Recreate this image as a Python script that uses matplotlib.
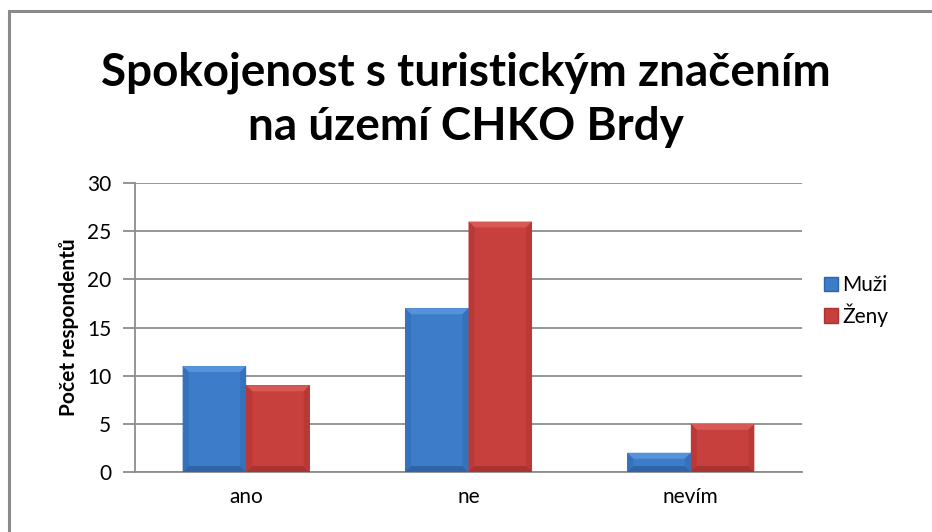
import matplotlib.pyplot as plt
from matplotlib.patches import Polygon, Rectangle
from matplotlib.transforms import IdentityTransform
import numpy as np

categories = ["ano", "ne", "nevím"]
muzi = [11, 17, 2]
zeny = [9, 26, 5]
series_names = ["Muži", "Ženy"]
yticks = [0, 5, 10, 15, 20, 25, 30]

FONT = ["Lato", "DejaVu Sans"]
plt.rcParams["font.family"] = FONT

fig = plt.figure(figsize=(9.32, 5.32), dpi=100)
ax = fig.add_axes([135 / 932, 60 / 532, 667 / 932, 289 / 532])

x = np.arange(len(categories))
w = 1 / 3.5
b1 = ax.bar(x - w / 2, muzi, w, color="#3D7CC9", zorder=3)
b2 = ax.bar(x + w / 2, zeny, w, color="#C8403D", zorder=3)

ax.set_xlim(-0.5, len(categories) - 0.5)
ax.set_ylim(0, 30)
ax.set_yticks(yticks)
ax.set_xticks(x)
ax.set_xticklabels(categories)
ax.yaxis.grid(True, color="#8c8c8c", linewidth=1.3, zorder=0)
ax.set_axisbelow(True)
for s in ["top", "right"]:
    ax.spines[s].set_visible(False)
for s in ["left", "bottom"]:
    ax.spines[s].set_color("#8c8c8c")
    ax.spines[s].set_linewidth(1.3)
ax.tick_params(axis="y", length=9, color="#8c8c8c", width=1.3, labelsize=15, pad=8)
ax.tick_params(axis="x", length=0, labelsize=15, pad=11)
ax.set_ylabel("Počet respondentů", fontsize=15, fontweight="bold", labelpad=6)

fig.text(0.5, 1 - 100 / 532, "Spokojenost s turistickým značením\nna území CHKO Brdy",
         ha="center", va="center", fontsize=33, fontweight="bold", linespacing=1.35)

# outer chart border
fig.patches.append(Rectangle((9 / 932, -0.1), 1.1, 1 - 11 / 532 + 0.1,
                             transform=fig.transFigure, fill=False,
                             edgecolor="#8a8a8a", linewidth=2.2))

# soft bevel on bars
fig.canvas.draw()
shades = {"#3D7CC9": ("#5693DC", "#3672BC", "#2F64A8"),
          "#C8403D": ("#D85855", "#BA3936", "#A83331")}
for bars, col in [(b1, "#3D7CC9"), (b2, "#C8403D")]:
    top_c, side_c, bot_c = shades[col]
    for p in bars:
        bb = p.get_window_extent()
        x0, y0, x1, y1 = bb.x0, bb.y0, bb.x1, bb.y1
        d = min(6, (y1 - y0) / 2, (x1 - x0) / 2)
        polys = [
            ([(x0, y1), (x1, y1), (x1 - d, y1 - d), (x0 + d, y1 - d)], top_c),
            ([(x0, y0), (x0, y1), (x0 + d, y1 - d), (x0 + d, y0 + d)], side_c),
            ([(x1, y0), (x1, y1), (x1 - d, y1 - d), (x1 - d, y0 + d)], side_c),
            ([(x0, y0), (x1, y0), (x1 - d, y0 + d), (x0 + d, y0 + d)], bot_c),
        ]
        for pts, c in polys:
            fig.patches.append(Polygon(pts, closed=True, transform=IdentityTransform(),
                                       facecolor=c, edgecolor="none", zorder=4))

h1 = Rectangle((0, 0), 1, 1, facecolor="#3D7CC9", edgecolor="#2F64A8")
h2 = Rectangle((0, 0), 1, 1, facecolor="#C8403D", edgecolor="#A83331")
fig.legend([h1, h2], series_names, loc="center left",
           bbox_to_anchor=(805 / 932, 1 - 301 / 532), frameon=False,
           fontsize=15, handlelength=0.7, handleheight=0.7, handletextpad=0.2,
           labelspacing=0.4)

fig.savefig("out.png", dpi=100)
